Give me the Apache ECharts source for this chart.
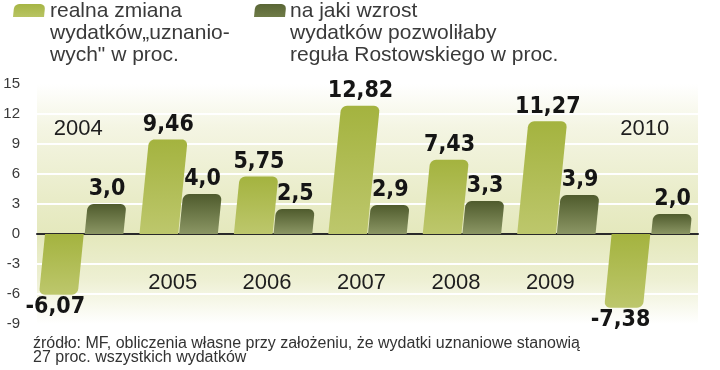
<!DOCTYPE html>
<html>
<head>
<meta charset="utf-8">
<style>
html,body{margin:0;padding:0;background:#fff;}
#chart{width:720px;height:370px;}
</style>
<script src="https://cdn.jsdelivr.net/npm/echarts@6/dist/echarts.min.js"></script>
</head>
<body>
<div id="chart"></div>
<script>
const years = ['2004', '2005', '2006', '2007', '2008', '2009', '2010'];
const realChange = [-6.07, 9.46, 5.75, 12.82, 7.43, 11.27, -7.38];
const ruleGrowth = [3.0, 4.0, 2.5, 2.9, 3.3, 3.9, 2.0];
const yMin = -9, yMax = 15, yStep = 3;
const legendTexts = [
  'realna zmiana\nwydatków„uznanio-\nwych" w proc.',
  'na jaki wzrost\nwydatków pozwoliłaby\nreguła Rostowskiego w proc.'
];
const sourceText = 'źródło: MF, obliczenia własne przy założeniu, że wydatki uznaniowe stanowią\n27 proc. wszystkich wydatków';

const SHEAR = 0.1;
const lightGrad = () => new echarts.graphic.LinearGradient(0, 0, 0, 1, [
  {offset: 0, color: '#a4b33f'}, {offset: 1, color: '#bdc76c'}]);
const darkGrad = () => new echarts.graphic.LinearGradient(0, 0, 0, 1, [
  {offset: 0, color: '#4f5b2d'}, {offset: 1, color: '#8b9664'}]);

function barShape(cx, y0, yv, w, r) {
  const up = yv <= y0;
  const yt = Math.min(y0, yv), yb = Math.max(y0, yv);
  const h = yb - yt;
  const rr = Math.max(0, Math.min(r, h / 2, w / 2));
  const L = cx - w / 2, R = cx + w / 2;
  const pts = [];
  const arc = (ax, ay, a0, a1) => {
    for (let i = 0; i <= 6; i++) {
      const a = a0 + (a1 - a0) * i / 6;
      pts.push([ax + rr * Math.cos(a), ay + rr * Math.sin(a)]);
    }
  };
  if (up) {
    pts.push([L, yb]);
    arc(L + rr, yt + rr, Math.PI, 1.5 * Math.PI);
    arc(R - rr, yt + rr, 1.5 * Math.PI, 2 * Math.PI);
    pts.push([R, yb]);
  } else {
    pts.push([L, yt]);
    pts.push([R, yt]);
    arc(R - rr, yb - rr, 0, 0.5 * Math.PI);
    arc(L + rr, yb - rr, 0.5 * Math.PI, Math.PI);
  }
  return pts.map(p => [p[0] + SHEAR * (y0 - p[1]), p[1]]);
}

function makeBarRender(side, decimals, gradFn) {
  return function (params, api) {
    const idx = api.value(0), val = api.value(1);
    const base = api.coord([idx, 0]);
    const end = api.coord([idx, val]);
    const bw = api.size([1, 0])[0];
    const cx = base[0] + side * 0.21 * bw;
    const w = 0.41 * bw;
    const pts = barShape(cx, base[1], end[1], w, 6);
    const topX = cx + SHEAR * (base[1] - end[1]);
    const label = val.toFixed(decimals).replace('.', ',');
    const pos = val >= 0;
    return {
      type: 'group',
      children: [
        {type: 'polygon', shape: {points: pts}, style: {fill: gradFn()}},
        {type: 'text', x: pos ? topX : topX - 3, y: pos ? end[1] - 3 : end[1] + 1,
          style: {text: label, fill: '#151515', align: 'center',
            verticalAlign: pos ? 'bottom' : 'top',
            font: 'bold 23px "DejaVu Sans Condensed", "DejaVu Sans", sans-serif'}}
      ]
    };
  };
}

function renderYear(params, api) {
  const idx = api.value(0);
  const p = api.coord([idx, realChange[idx] < 0 ? 10.5 : -4.85]);
  return {type: 'text', x: p[0] - 6, y: p[1],
    style: {text: years[idx], fill: '#1e1e1e', align: 'center', verticalAlign: 'middle',
      font: '22px "Liberation Sans", Arial, sans-serif'}};
}

function legendSwatch(x, y, w, h, grad) {
  const pts = barShape(x + w / 2, y + h, y, w - 4, 5);
  return {type: 'polygon', shape: {points: pts}, style: {fill: grad}, z: 10};
}

const chart = echarts.init(document.getElementById('chart'), null, {renderer: 'canvas'});
chart.setOption({
  animation: false,
  backgroundColor: '#ffffff',
  grid: {
    left: 37, right: 22, top: 84, bottom: 46, show: true, borderWidth: 0,
    backgroundColor: new echarts.graphic.LinearGradient(0, 0, 0, 1, [
      {offset: 0, color: '#ffffff'},
      {offset: 0.18, color: '#f4f5e3'},
      {offset: 0.48, color: '#e9ecc8'},
      {offset: 0.63, color: '#e4e8bc'},
      {offset: 0.82, color: '#eef0d4'},
      {offset: 1, color: '#ffffff'}])
  },
  xAxis: {
    type: 'category', data: years,
    axisLine: {show: true, onZero: true, lineStyle: {color: '#2a2a2a', width: 2}},
    axisTick: {show: false}, axisLabel: {show: false}, splitLine: {show: false}
  },
  yAxis: {
    type: 'value', min: yMin, max: yMax, interval: yStep,
    axisLine: {show: false}, axisTick: {show: false},
    axisLabel: {color: '#3a3a3a', fontSize: 15, fontFamily: '"Liberation Sans", Arial, sans-serif',
      margin: 17, padding: [6, 0, 0, 0]},
    splitLine: {show: true, lineStyle: {width: 2,
      color: ['rgba(0,0,0,0)', '#ffffff', '#ffffff', 'rgba(0,0,0,0)', '#ffffff', '#ffffff', '#ffffff', '#ffffff', 'rgba(0,0,0,0)']}}
  },
  series: [
    {name: 'realna zmiana', type: 'custom', renderItem: makeBarRender(-1, 2, lightGrad),
      data: realChange.map((v, i) => [i, v]), encode: {x: 0, y: 1}, z: 3},
    {name: 'reguła', type: 'custom', renderItem: makeBarRender(1, 1, darkGrad),
      data: ruleGrowth.map((v, i) => [i, v]), encode: {x: 0, y: 1}, z: 3},
    {name: 'years', type: 'custom', renderItem: renderYear,
      data: years.map((y, i) => [i, 0]), encode: {x: 0, y: 1}, z: 4}
  ],
  graphic: [
    legendSwatch(11, 4, 35, 13, new echarts.graphic.LinearGradient(0, 0, 0, 1, [
      {offset: 0, color: '#a6b545'}, {offset: 1, color: '#b8c463'}])),
    legendSwatch(252, 4, 35, 13, new echarts.graphic.LinearGradient(0, 0, 0, 1, [
      {offset: 0, color: '#5a6636'}, {offset: 1, color: '#6f7b47'}])),
    {type: 'text', left: 50, top: 0, z: 10,
      style: {text: legendTexts[0], fill: '#3a3a3a', font: '21px "Liberation Sans", Arial, sans-serif', lineHeight: 22}},
    {type: 'text', left: 290, top: 0, z: 10,
      style: {text: legendTexts[1], fill: '#3a3a3a', font: '21px "Liberation Sans", Arial, sans-serif', lineHeight: 22}},
    {type: 'text', left: 33, top: 336, z: 10,
      style: {text: sourceText, fill: '#333', font: '16px "Liberation Sans", Arial, sans-serif', lineHeight: 14}}
  ]
});
</script>
</body>
</html>
